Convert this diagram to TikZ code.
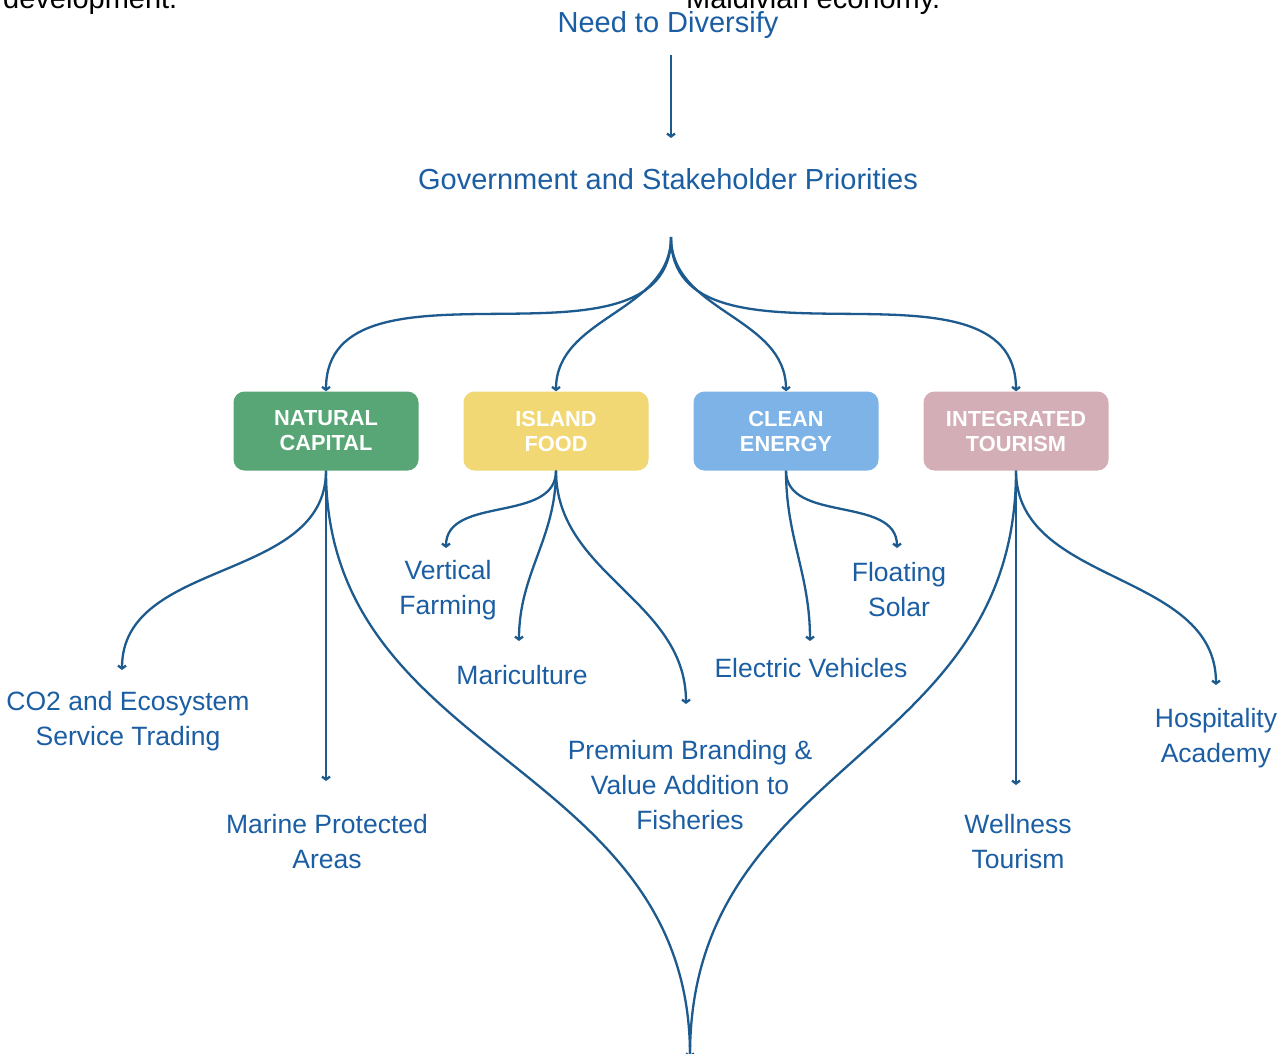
\documentclass[tikz,border=0pt]{standalone}
\usepackage{fontspec}
\setmainfont{Liberation Sans}
\usetikzlibrary{arrows.meta}
\definecolor{linkblue}{HTML}{1D5A8E}
\definecolor{labelblue}{HTML}{1B5EA3}
\definecolor{natgreen}{HTML}{58A676}
\definecolor{foodyellow}{HTML}{F1D875}
\definecolor{energyblue}{HTML}{7DB3E6}
\definecolor{tourpink}{HTML}{D3AEB6}
\begin{document}
\begin{tikzpicture}[x=1pt,y=-1pt,
  link/.style={draw=linkblue,line width=2.3pt,-{Straight Barb[length=3pt,width=8pt]}},
  label/.style={text=labelblue,font=\fontsize{26.5}{35}\selectfont,align=center,inner sep=0pt},
  heading/.style={text=labelblue,font=\fontsize{29}{35}\selectfont,inner sep=0pt},
  pillar/.style={rounded corners=11pt,minimum width=185pt,minimum height=79pt,text=white,
    font=\bfseries\fontsize{21.8}{25}\selectfont,align=center,inner sep=0pt},
  cuttext/.style={text=black,font=\fontsize{29}{35}\selectfont,inner sep=0pt}]
\useasboundingbox (0,0) rectangle (1288,1053);
\fill[white] (0,0) rectangle (1288,1053);
\clip (0,0) rectangle (1288,1053);

% lines of text running in from above
\node[cuttext,anchor=base west] (devtext) at (3,8) {development.};
\node[cuttext,anchor=base west] (ecotext) at (686,8) {Maldivian economy.};

% headings
\node[heading,anchor=base] (need) at (668,32) {Need to Diversify};
\node[heading,anchor=base] (gov) at (668,189) {Government and Stakeholder Priorities};
\coordinate (needfoot) at (671,55);
\coordinate (govhead) at (671,138);
\coordinate (fork) at (671,237);

% the four pillars
\node[pillar,fill=natgreen] (nc) at (326,431) {NATURAL\\CAPITAL};
\node[pillar,fill=foodyellow] (isf) at (556,431) {ISLAND\\FOOD};
\node[pillar,fill=energyblue] (ce) at (786,431) {CLEAN\\ENERGY};
\node[pillar,fill=tourpink] (it) at (1016,431) {INTEGRATED\\TOURISM};

% initiatives
\node[label] (co2) at (128,721) {CO2 and Ecosystem\\Service Trading};
\node[label] (mpa) at (327,842) {Marine Protected\\Areas};
\node[label] (vf) at (448,590) {Vertical\\Farming};
\node[label] (mar) at (522,675) {Mariculture};
\node[label] (pb) at (690,785) {Premium Branding \&\\Value Addition to\\Fisheries};
\node[label] (ev) at (811,668) {Electric Vehicles};
\node[label] (fs) at (899,590) {Floating\\Solar};
\node[label] (wt) at (1018,842) {Wellness\\Tourism};
\node[label] (ha) at (1216,738) {Hospitality\\Academy};

% arrow ends above the initiatives
\coordinate (co2tip) at (122,670);
\coordinate (mpatip) at (326,781);
\coordinate (vftip) at (446,548);
\coordinate (martip) at (519,641);
\coordinate (pbtip) at (686,704);
\coordinate (evtip) at (810,641);
\coordinate (fstip) at (897,548);
\coordinate (wttip) at (1016,785);
\coordinate (hatip) at (1216,685);
\coordinate (merge) at (690,1058);

% connectors
\draw[link] (needfoot) -- (govhead);
\draw[link] (fork) .. controls +(0,150) and +(0,-150) .. (nc.north);
\draw[link] (fork) .. controls +(0,75) and +(0,-75) .. (isf.north);
\draw[link] (fork) .. controls +(0,75) and +(0,-75) .. (ce.north);
\draw[link] (fork) .. controls +(0,150) and +(0,-150) .. (it.north);

\draw[link] (nc.south) .. controls +(0,112) and +(0,-112) .. (co2tip);
\draw[link] (nc.south) -- (mpatip);
\draw[link] (nc.south) .. controls +(0,290) and +(0,-298) .. (merge);

\draw[link] (isf.south) .. controls +(0,53) and +(0,-53) .. (vftip);
\draw[link] (isf.south) .. controls +(0,68) and +(0,-68) .. (martip);
\draw[link] (isf.south) .. controls +(0,104) and +(0,-104) .. (pbtip);

\draw[link] (ce.south) .. controls +(0,53) and +(0,-53) .. (fstip);
\draw[link] (ce.south) .. controls +(0,67) and +(0,-67) .. (evtip);

\draw[link] (it.south) -- (wttip);
\draw[link] (it.south) .. controls +(0,115) and +(0,-115) .. (hatip);
\draw[link] (it.south) .. controls +(0,290) and +(0,-298) .. (merge);
\end{tikzpicture}
\end{document}
